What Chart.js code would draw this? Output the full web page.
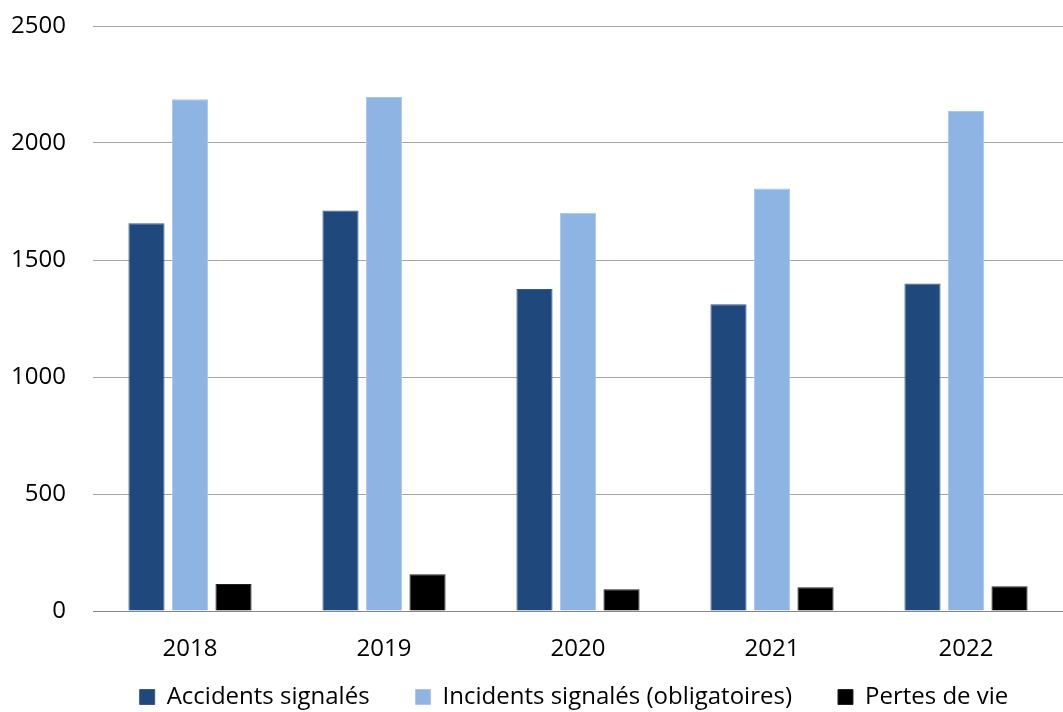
<!DOCTYPE html>
<html lang="fr">
<head>
<meta charset="utf-8">
<title>Accidents, incidents et pertes de vie</title>
<script src="https://cdn.jsdelivr.net/npm/chart.js@4/dist/chart.umd.min.js"></script>
<style>
  html, body { margin: 0; padding: 0; background: #fff; }
  #wrap { width: 1063px; height: 712px; position: relative; }
</style>
</head>
<body>
<div id="wrap"><canvas id="chart"></canvas></div>
<script>
// Données annuelles
const years = ['2018', '2019', '2020', '2021', '2022'];
const accidents = [1657, 1712, 1376, 1311, 1400];
const incidents = [2187, 2197, 1702, 1806, 2137];
const pertes = [115, 157, 93, 101, 106];
const yTicks = [0, 500, 1000, 1500, 2000, 2500];

const FONT = "'Open Sans', 'DejaVu Sans', sans-serif";
Chart.defaults.font.family = FONT;
Chart.defaults.color = '#000';

// la légende garde un grand écart horizontal entre les entrées, mais on
// réduit sa hauteur et on la centre sous la zone de tracé
const legendLayout = {
  id: 'legendLayout',
  afterInit(chart) {
    const lg = chart.legend;
    if (!lg) return;
    const fit = lg.fit.bind(lg);
    lg.fit = function () { fit(); this.height = 47; };
  },
  afterLayout(chart) {
    const lg = chart.legend;
    if (!lg) return;
    lg.left = chart.chartArea.left - 8;
    lg.top = chart.height - 73;
  }
};

new Chart(document.getElementById('chart'), {
  type: 'bar',
  data: {
    labels: years,
    datasets: [
      { label: 'Accidents signalés', data: accidents, backgroundColor: '#1F497D', borderColor: '#35598a', borderWidth: 1 },
      { label: 'Incidents signalés (obligatoires)', data: incidents, backgroundColor: '#8EB4E3', borderColor: '#a9c7ec', borderWidth: 1 },
      { label: 'Pertes de vie', data: pertes, backgroundColor: '#000000', borderColor: '#222', borderWidth: 1 },
    ]
  },
  plugins: [legendLayout],
  options: {
    responsive: true,
    maintainAspectRatio: false,
    animation: false,
    layout: { padding: { top: 26, right: 0, left: 0, bottom: 0 } },
    datasets: { bar: { categoryPercentage: 0.673, barPercentage: 0.83 } },
    plugins: {
      tooltip: { enabled: false },
      legend: {
        position: 'bottom',
        labels: {
          font: { size: 24 },
          boxWidth: 15,
          boxHeight: 15,
          padding: 46,
          useBorderRadius: false
        }
      }
    },
    scales: {
      x: {
        grid: { display: false },
        border: { display: true, color: '#868686', width: 1 },
        ticks: { font: { size: 24 }, padding: 16 },
        afterFit: s => { s.height = 54; }
      },
      y: {
        min: 0,
        max: 2500,
        afterBuildTicks: s => { s.ticks = yTicks.map(v => ({ value: v })); },
        border: { display: false },
        grid: {
          drawTicks: false,
          color: ctx => ctx.tick && ctx.tick.value === 0 ? '#868686' : '#A6A6A6',
          lineWidth: 1
        },
        ticks: { font: { size: 24 }, padding: 27, callback: v => String(v) },
        afterFit: s => { s.width = 93; s.paddingTop = 0; s.paddingBottom = 0; }
      }
    }
  }
});
</script>
</body>
</html>
